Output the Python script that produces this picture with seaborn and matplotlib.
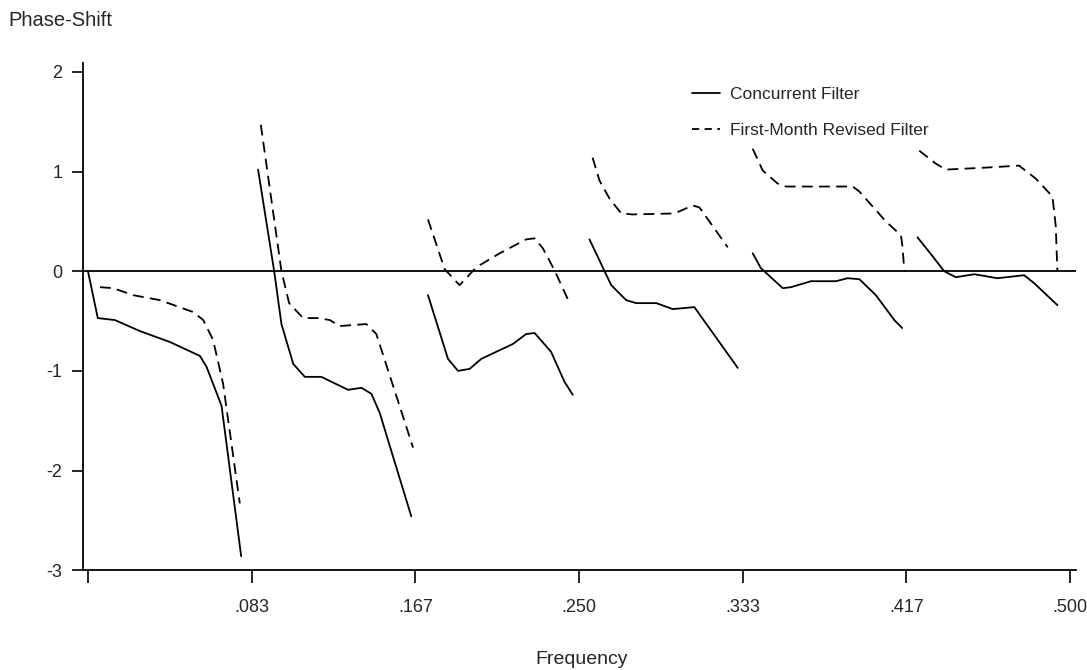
import numpy as np
import pandas as pd
import matplotlib
matplotlib.use("Agg")
import matplotlib.pyplot as plt
from matplotlib.lines import Line2D
import seaborn as sns

# ---- data ----
conc_freq = [0.0, 0.005, 0.0137, 0.0264, 0.0417, 0.057, 0.0604, 0.068, 0.078,
             0.0866, 0.0948, 0.0985, 0.1045, 0.1104, 0.1188, 0.1324, 0.1392, 0.1443, 0.1485, 0.1646,
             0.1731, 0.1833, 0.1884, 0.1943, 0.2002, 0.2163, 0.2231, 0.2274, 0.2358, 0.2426, 0.2468,
             0.2553, 0.263, 0.2664, 0.274, 0.2791, 0.2893, 0.2977, 0.3087, 0.3308,
             0.3384, 0.3426, 0.3443, 0.3537, 0.3579, 0.3681, 0.3808, 0.3867, 0.3927, 0.4011, 0.4105, 0.4145,
             0.4223, 0.43, 0.4359, 0.4418, 0.4512, 0.463, 0.4766, 0.4817, 0.4935]
conc_phase = [0.0, -0.47, -0.49, -0.60, -0.71, -0.85, -0.96, -1.35, -2.86,
              1.02, 0.0, -0.53, -0.93, -1.06, -1.06, -1.19, -1.17, -1.23, -1.42, -2.46,
              -0.24, -0.88, -1.0, -0.98, -0.88, -0.73, -0.63, -0.62, -0.81, -1.11, -1.24,
              0.32, 0.0, -0.14, -0.29, -0.32, -0.32, -0.38, -0.36, -0.97,
              0.18, 0.03, 0.0, -0.17, -0.16, -0.10, -0.10, -0.07, -0.08, -0.24, -0.49, -0.57,
              0.34, 0.15, 0.0, -0.06, -0.03, -0.07, -0.04, -0.12, -0.34]
conc_seg = [1] * 9 + [2] * 11 + [3] * 11 + [4] * 9 + [5] * 12 + [6] * 9

rev_freq = [0.0061, 0.0129, 0.023, 0.0366, 0.0536, 0.0587, 0.0637, 0.0688, 0.0773,
            0.088, 0.0985, 0.1024, 0.1095, 0.1172, 0.1231, 0.1282, 0.1417, 0.1468, 0.1655,
            0.1731, 0.1816, 0.1892, 0.1977, 0.2096, 0.2231, 0.2274, 0.2316, 0.2375, 0.2452,
            0.2569, 0.2604, 0.2655, 0.2715, 0.2774, 0.2986, 0.3079, 0.3113, 0.3257,
            0.3384, 0.3435, 0.3511, 0.3554, 0.3893, 0.3927, 0.4062, 0.4139, 0.4147, 0.4156,
            0.4232, 0.4316, 0.4367, 0.4571, 0.474, 0.4825, 0.491, 0.4927, 0.4935]
rev_phase = [-0.16, -0.17, -0.24, -0.29, -0.41, -0.49, -0.69, -1.13, -2.33,
             1.47, 0.0, -0.32, -0.47, -0.47, -0.49, -0.55, -0.53, -0.63, -1.77,
             0.52, 0.02, -0.14, 0.04, 0.18, 0.32, 0.33, 0.23, 0.01, -0.32,
             1.14, 0.91, 0.73, 0.58, 0.57, 0.58, 0.66, 0.64, 0.24,
             1.23, 1.01, 0.88, 0.85, 0.85, 0.80, 0.50, 0.36, 0.24, 0.0,
             1.21, 1.08, 1.02, 1.04, 1.06, 0.93, 0.75, 0.45, 0.0]
rev_seg = [1] * 9 + [2] * 10 + [3] * 10 + [4] * 9 + [5] * 10 + [6] * 9

series_names = ["Concurrent Filter", "First-Month Revised Filter"]
x_ticks = [0.0, 0.0833, 0.1667, 0.25, 0.3333, 0.4167, 0.5]
x_tick_labels = ["", ".083", ".167", ".250", ".333", ".417", ".500"]
y_ticks = [-3, -2, -1, 0, 1, 2]
y_tick_labels = ["-3", "-2", "-1", "0", "1", "2"]

# ---- plotting ----
sns.set_style("ticks")
plt.rcParams["font.family"] = ["Liberation Sans", "DejaVu Sans"]

df_conc = pd.DataFrame({"freq": conc_freq, "phase": conc_phase, "seg": conc_seg})
df_rev = pd.DataFrame({"freq": rev_freq, "phase": rev_phase, "seg": rev_seg})

fig = plt.figure(figsize=(10.87, 6.70), dpi=100)
ax = fig.add_axes([0.0764, 0.149, 0.9135, 0.757])

lw = 1.3
sns.lineplot(data=df_conc, x="freq", y="phase", units="seg", estimator=None,
             sort=False, color="black", linewidth=lw, ax=ax, legend=False)
sns.lineplot(data=df_rev, x="freq", y="phase", units="seg", estimator=None,
             sort=False, color="black", linewidth=lw, ax=ax, legend=False,
             dashes=False)
# apply dash pattern to second set of lines
n_conc = df_conc["seg"].nunique()
for ln in ax.lines[n_conc:]:
    ln.set_dashes((6, 3.5))

ax.axhline(0, color="black", linewidth=1.3)

ax.set_xlim(-0.0025, 0.503)
ax.set_ylim(-3, 2.09)
ax.set_xticks(x_ticks)
ax.set_xticklabels(x_tick_labels)
ax.set_yticks(y_ticks)
ax.set_yticklabels(y_tick_labels)
ax.tick_params(axis="x", length=9, width=1.2, pad=12, labelsize=13, color="black")
ax.tick_params(axis="y", length=8, width=1.2, pad=7, labelsize=13, color="black")
ax.set_xlabel("")
ax.set_ylabel("")
sns.despine(ax=ax)
for sp in ["left", "bottom"]:
    ax.spines[sp].set_linewidth(1.3)
    ax.spines[sp].set_color("black")

handles = [Line2D([], [], color="black", linewidth=lw),
           Line2D([], [], color="black", linewidth=lw, dashes=(4, 3))]
fig.legend(handles, series_names, loc="upper left",
           bbox_to_anchor=(692 / 1087, 1 - 87 / 670), frameon=False,
           fontsize=12.5, handlelength=1.6, handletextpad=0.6,
           labelspacing=1.2, borderpad=0, borderaxespad=0)

fig.text(8 / 1087, 1 - 21 / 670, "Phase-Shift", fontsize=14.5, va="center", ha="left")
fig.text(582 / 1087, 1 - 659 / 670, "Frequency", fontsize=14, va="center", ha="center")

fig.savefig("out.png", dpi=100)
